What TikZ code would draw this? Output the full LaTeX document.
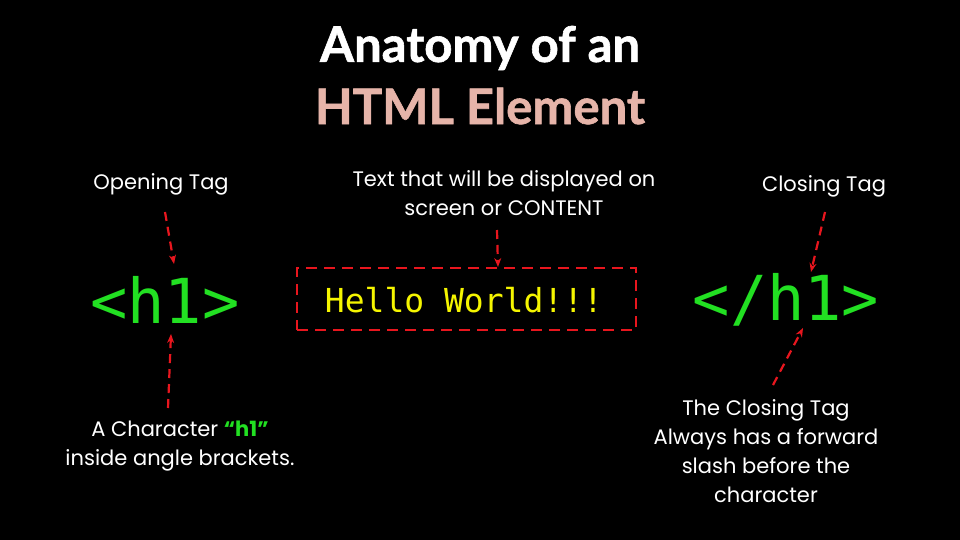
\documentclass[tikz,border=0pt]{standalone}
\usepackage{fontspec}
\setmainfont{Fira Sans}
\newfontfamily\titlefont[BoldFeatures={FakeBold=1.2}]{Lato}
\newfontfamily\monofont{DejaVu Sans Mono}
\newfontfamily\notefont{Poppins}
\usetikzlibrary{arrows.meta}
\definecolor{titlepink}{HTML}{E6B4A9}
\definecolor{taggreen}{HTML}{22E022}
\definecolor{helloyellow}{HTML}{F5F500}
\definecolor{dashred}{HTML}{E8161E}
\begin{document}
\begin{tikzpicture}[x=1pt,y=-1pt,
  note/.style={text=white,font=\notefont\fontsize{21}{29}\selectfont,align=center,inner sep=0pt},
  tag/.style={text=taggreen,font=\monofont\fontsize{62}{62}\selectfont,inner sep=0pt},
  ptr/.style={draw=dashred,line width=2.2pt,dash pattern=on 9pt off 6pt,-{Stealth[length=9pt,width=7pt]}},
  contentbox/.style={draw=dashred,line width=2.6pt,dash pattern=on 11pt off 7pt,minimum width=339pt,minimum height=62pt,inner sep=0pt}
]
\fill[black] (0,0) rectangle (960,540);
\node[text=white,font=\titlefont\bfseries\fontsize{49}{49}\selectfont,inner sep=0pt] (t1) at (480,48) {Anatomy of an};
\node[text=titlepink,font=\titlefont\bfseries\fontsize{49}{49}\selectfont,inner sep=0pt] (t2) at (480,106) {HTML Element};

\node[note] (open) at (161,184) {Opening Tag};
\node[tag] (otag) at (165,300) {<h1>};
\node[note] (opennote) at (180,446) {A Character \textcolor{taggreen}{\bfseries “h1”}\\inside angle brackets.};

\node[note] (content) at (504,193) {Text that will be displayed on\\screen or CONTENT};
\node[contentbox] (box) at (466.5,299) {};
\node[text=helloyellow,font=\monofont\fontsize{33}{33}\selectfont,inner sep=0pt] (hello) at (464,300) {Hello World!!!};

\node[note] (close) at (824,186) {Closing Tag};
\node[tag] (ctag) at (786,300) {</h1>};
\node[note] (closenote) at (766,451) {The Closing Tag\\Always has a forward\\slash before the\\character};

\coordinate (a1s) at (165,212); \coordinate (a1e) at (174,264);
\coordinate (a2s) at (168,408); \coordinate (a2e) at (171,334);
\coordinate (a3s) at (497,230); \coordinate (a3e) at (498,267);
\coordinate (a4s) at (825,212); \coordinate (a4e) at (811,272);
\coordinate (a5s) at (773,385); \coordinate (a5e) at (803,328);
\draw[ptr] (a1s) -- (a1e);
\draw[ptr] (a2s) -- (a2e);
\draw[ptr] (a3s) -- (a3e);
\draw[ptr] (a4s) -- (a4e);
\draw[ptr] (a5s) -- (a5e);
\end{tikzpicture}
\end{document}
